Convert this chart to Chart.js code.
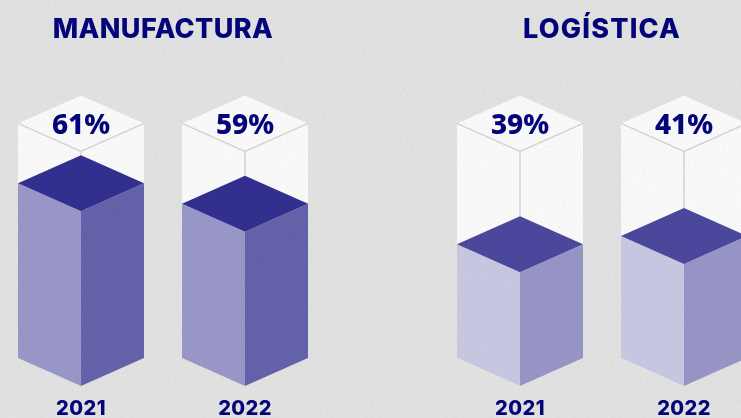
<!DOCTYPE html>
<html lang="es">
<head>
<meta charset="utf-8">
<script src="https://cdn.jsdelivr.net/npm/chart.js@4"></script>
<style>
html,body{margin:0;padding:0;width:741px;height:418px;overflow:hidden;background:#e3e3e3}
canvas{position:absolute;top:0}
#left{left:-1px}
#right{left:438px}
#grain{position:absolute;left:0;top:0;width:741px;height:418px;pointer-events:none;opacity:.10;mix-blend-mode:multiply;
background-image:url("data:image/svg+xml,%3Csvg xmlns='http://www.w3.org/2000/svg' width='741' height='418'%3E%3Cfilter id='n'%3E%3CfeTurbulence type='fractalNoise' baseFrequency='.35' numOctaves='3' seed='4'/%3E%3CfeColorMatrix type='saturate' values='0'/%3E%3C/filter%3E%3Crect width='741' height='418' filter='url(%23n)'/%3E%3C/svg%3E")}
</style>
</head>
<body>
<canvas id="left" width="328" height="418"></canvas>
<canvas id="right" width="328" height="418"></canvas>
<div id="grain"></div>
<script>
// Values
const years = ["2021", "2022"];
const manufacturaLabels = ["61%", "59%"];
const logisticaLabels = ["39%", "41%"];
// Fill heights as drawn in the reference, in % of the column height.
const manufacturaFill = [74.5, 65.8];
const logisticaFill = [48.5, 52];
// Styles
const NAVY = "#04047c";
const manufacturaFaces = {left: "#9a98ca", right: "#6462aa", top: "#332f90"};
const logisticaFaces = {left: "#c9c9e3", right: "#9896c8", top: "#4b489e"};
const DEPTH = 28;

function poly(ctx, pts, fill) {
  ctx.beginPath();
  pts.forEach((p, i) => i ? ctx.lineTo(p[0], p[1]) : ctx.moveTo(p[0], p[1]));
  ctx.closePath();
  ctx.fillStyle = fill;
  ctx.fill();
}

const isoColumns = {
  id: "isoColumns",
  beforeDraw(chart, args, opts) {
    chart.ctx.letterSpacing = opts.titleSpacing;
  },
  beforeDatasetsDraw(chart, args, opts) {
    const ctx = chart.ctx;
    const y = chart.scales.y;
    const top = y.getPixelForValue(100);
    ctx.letterSpacing = "0px";
    chart.getDatasetMeta(0).data.forEach((bar, i) => {
      const c = bar.x, hw = bar.width / 2, l = c - hw, r = c + hw;
      const fy = bar.y, by = bar.base;
      // empty column
      poly(ctx, [[l, top - DEPTH], [c, top - 2 * DEPTH], [r, top - DEPTH], [r, by - DEPTH], [c, by], [l, by - DEPTH]], "#fbfbfb");
      ctx.strokeStyle = "#d6d6d6";
      ctx.lineWidth = 1.5;
      ctx.beginPath();
      ctx.moveTo(l, top - DEPTH);
      ctx.lineTo(c, top);
      ctx.lineTo(r, top - DEPTH);
      ctx.moveTo(c, top);
      ctx.lineTo(c, fy);
      ctx.stroke();
      // filled part
      poly(ctx, [[l, fy - DEPTH], [c, fy], [c, by], [l, by - DEPTH]], opts.faces.left);
      poly(ctx, [[r, fy - DEPTH], [c, fy], [c, by], [r, by - DEPTH]], opts.faces.right);
      poly(ctx, [[l, fy - DEPTH], [c, fy - 2 * DEPTH], [r, fy - DEPTH], [c, fy]], opts.faces.top);
      // value label
      ctx.fillStyle = NAVY;
      ctx.font = "800 28px 'Noto Sans'";
      ctx.textAlign = "center";
      ctx.textBaseline = "middle";
      ctx.fillText(opts.labels[i], c, top - DEPTH + 3);
    });
    ctx.letterSpacing = "0.4px";
    return false;
  }
};

function panel(id, title, values, labels, faces, titleSpacing) {
  new Chart(document.getElementById(id), {
    type: "bar",
    data: {labels: years, datasets: [{data: values, barThickness: 126, backgroundColor: faces.left}]},
    plugins: [isoColumns],
    options: {
      responsive: false,
      animation: false,
      layout: {padding: 0},
      plugins: {
        legend: {display: false},
        tooltip: {enabled: false},
        title: {display: true, text: title, color: NAVY, align: "center",
                font: {family: "Inter", size: 27, weight: "800", lineHeight: 1.2},
                padding: {top: 14, bottom: 105}},
        isoColumns: {faces: faces, labels: labels, titleSpacing: titleSpacing}
      },
      scales: {
        x: {
          grid: {display: false}, border: {display: false},
          ticks: {color: NAVY, font: {family: "Inter", size: 20, weight: "800"}, padding: 3, maxRotation: 0, z: 1},
          afterFit(axis) { axis.height = 32; }
        },
        y: {display: false, min: 0, max: 100}
      }
    }
  });
}

panel("left", "MANUFACTURA", manufacturaFill, manufacturaLabels, manufacturaFaces, "0.4px");
panel("right", "LOGÍSTICA", logisticaFill, logisticaLabels, logisticaFaces, "1.2px");
</script>
</body>
</html>
